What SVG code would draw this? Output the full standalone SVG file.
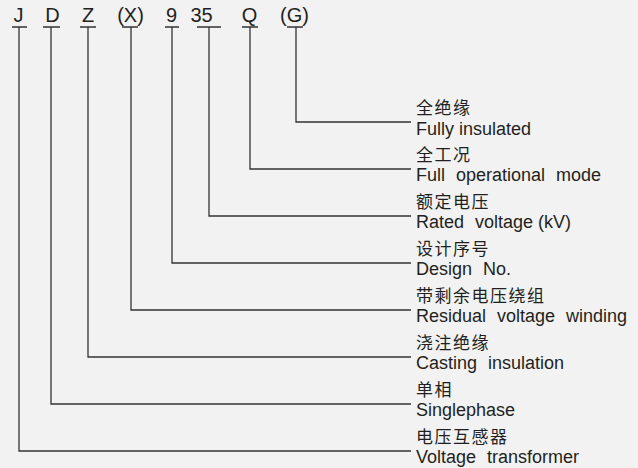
<svg xmlns="http://www.w3.org/2000/svg" width="638" height="468" viewBox="0 0 638 468">
<style>
.bg{fill:#f2f2f2}
.code{font-family:"Liberation Sans",Arial,sans-serif;font-size:20px;fill:#231f20}
.en{font-family:"Liberation Sans",Arial,sans-serif;font-size:18px;fill:#231f20;word-spacing:6px}
.cn{font-family:"Noto Sans CJK SC","Liberation Sans",sans-serif;font-size:17px;fill:#231f20;letter-spacing:1.5px}
.ln{fill:none;stroke:#333;stroke-width:1.3}
</style>
<rect class="bg" x="0" y="0" width="638" height="468"/>
<g id="codes">
<text class="code" x="18.5" y="21.5" text-anchor="middle">J</text>
<text class="code" x="52.5" y="21.5" text-anchor="middle">D</text>
<text class="code" x="88" y="21.5" text-anchor="middle">Z</text>
<text class="code" x="130.5" y="21.5" text-anchor="middle">(X)</text>
<text class="code" x="171.5" y="21.5" text-anchor="middle">9</text>
<text class="code" x="201.5" y="21.5" text-anchor="middle">35</text>
<text class="code" x="249.5" y="21.5" text-anchor="middle">Q</text>
<text class="code" x="294.5" y="21.5" text-anchor="middle">(G)</text>
</g>
<g id="connectors">
<path class="ln" d="M12 27H27M19 27V451H411"/>
<path class="ln" d="M43 27H60M51 27V404H411"/>
<path class="ln" d="M80 27H96M88 27V357H411"/>
<path class="ln" d="M122 27H138M131 27V310H411"/>
<path class="ln" d="M165 27H179M172 27V263H411"/>
<path class="ln" d="M197 27H221M209 27V216H411"/>
<path class="ln" d="M242 27H258M250 27V169H411"/>
<path class="ln" d="M287 27H303M296 27V122H411"/>
</g>
<g id="node-G">
<text class="cn" x="416" y="114">全绝缘</text>
<text class="en" x="416" y="135" style="word-spacing:0">Fully insulated</text>
</g>
<g id="node-Q">
<text class="cn" x="416" y="161">全工况</text>
<text class="en" x="416" y="181">Full operational mode</text>
</g>
<g id="node-35">
<text class="cn" x="416" y="208">额定电压</text>
<text class="en" x="416" y="228">Rated voltage<tspan style="word-spacing:0"> (kV)</tspan></text>
</g>
<g id="node-9">
<text class="cn" x="416" y="255">设计序号</text>
<text class="en" x="416" y="275">Design No.</text>
</g>
<g id="node-X">
<text class="cn" x="416" y="302">带剩余电压绕组</text>
<text class="en" x="416" y="322">Residual voltage winding</text>
</g>
<g id="node-Z">
<text class="cn" x="416" y="349">浇注绝缘</text>
<text class="en" x="416" y="369">Casting insulation</text>
</g>
<g id="node-D">
<text class="cn" x="416" y="396">单相</text>
<text class="en" x="416" y="416">Singlephase</text>
</g>
<g id="node-J">
<text class="cn" x="416" y="443">电压互感器</text>
<text class="en" x="416" y="463">Voltage transformer</text>
</g>
</svg>
